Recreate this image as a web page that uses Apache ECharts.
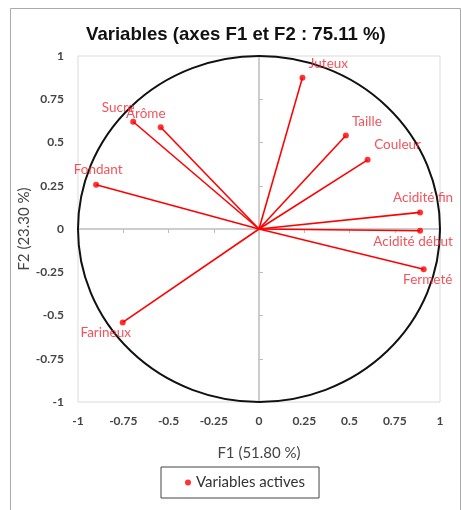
<!DOCTYPE html>
<html><head><meta charset="utf-8">
<script src="https://cdn.jsdelivr.net/npm/echarts@6/dist/echarts.min.js"></script>
<style>html,body{margin:0;padding:0;background:#fff}#c{width:461px;height:510px}</style>
</head><body><div id="c"></div>
<script>
var variables = ['Juteux','Taille','Couleur','Acidité fin','Acidité début','Fermeté','Sucre','Arôme','Fondant','Farineux'];
var f1 = [0.24, 0.48, 0.60, 0.89, 0.89, 0.91, -0.695, -0.543, -0.90, -0.753];
var f2 = [0.875, 0.54, 0.40, 0.096, -0.01, -0.233, 0.62, 0.588, 0.256, -0.54];
var tickValues = [-1, -0.75, -0.5, -0.25, 0, 0.25, 0.5, 0.75, 1];
var circleRadius = [1];

// label placement (style only)
var labelOffsets = [[26,-14],[21,-14],[30,-15],[3,-15],[-7,11],[4,10],[-15,-14],[-15,-14],[2,-15],[-17,10]];

var RED = '#ff0000';
var LBL = '#f02833';
var FONT = 'Lato, "Open Sans", sans-serif';

var chart = echarts.init(document.getElementById('c'), null, {renderer:'canvas'});

function fmt(v){ return String(v); }

var scatterData = variables.map(function(n,i){
  return {name:n, value:[f1[i], f2[i]],
    label:{show:true, position:'inside', offset:labelOffsets[i], formatter:n,
      color:LBL, fontSize:13.5, fontFamily:FONT}};
});
var lineData = variables.map(function(n,i){ return {coords:[[0,0],[f1[i],f2[i]]]}; });

var axisCommon = {
  type:'value', min:-1, max:1, interval:0.25,
  splitLine:{show:false}
};

chart.setOption({
  animation:false,
  title:{text:'Variables (axes F1 et F2 : 75.11 %)', left:81, top:20,
    textStyle:{fontFamily:'"Liberation Sans", Arial, sans-serif', fontWeight:'bold', fontSize:18.6, color:'#111'}},
  legend:{data:[{name:'Variables actives', icon:'circle'}], left:161, top:467,
    itemWidth:6, itemHeight:6, itemGap:8,
    padding:[8,14,8,24], borderColor:'#444', borderWidth:1,
    textStyle:{fontFamily:FONT, fontSize:15, color:'#333'}},
  grid:{left:78, right:21, top:56, bottom:108, show:true, borderColor:'#dadada', borderWidth:1},
  xAxis:[
    Object.assign({}, axisCommon, {position:'bottom',
      axisLine:{show:false, onZero:false}, axisTick:{show:false},
      axisLabel:{formatter:fmt, color:'#444', fontFamily:FONT, fontSize:12, fontWeight:'bold', margin:13},
      name:'F1 (51.80 %)', nameLocation:'middle', nameGap:44, nameMoveOverlap:false,
      nameTextStyle:{fontFamily:FONT, fontSize:15, color:'#444'}}),
    Object.assign({}, axisCommon, {position:'top',
      axisLine:{show:true, onZero:true, lineStyle:{color:'#bdbdbd', width:1.5}},
      axisTick:{show:true, inside:true, length:4, lineStyle:{color:'#bdbdbd'}},
      axisLabel:{show:false}})
  ],
  yAxis:[
    Object.assign({}, axisCommon, {position:'left',
      axisLine:{show:false, onZero:false}, axisTick:{show:false},
      axisLabel:{formatter:fmt, color:'#444', fontFamily:FONT, fontSize:12, fontWeight:'bold', margin:14},
      name:'F2 (23.30 %)', nameLocation:'middle', nameGap:46, nameRotate:90, nameMoveOverlap:false,
      nameTextStyle:{fontFamily:FONT, fontSize:15, color:'#444'}}),
    Object.assign({}, axisCommon, {position:'right',
      axisLine:{show:true, onZero:true, lineStyle:{color:'#bdbdbd', width:1.5}},
      axisTick:{show:true, inside:false, length:4, lineStyle:{color:'#bdbdbd'}},
      axisLabel:{show:false}})
  ],
  graphic:[{type:'rect', left:8, top:6, z:-10, silent:true,
    shape:{width:450, height:520}, style:{fill:'none', stroke:'#aaa', lineWidth:1}}],
  series:[
    {type:'custom', name:'cercle', xAxisIndex:0, yAxisIndex:0, silent:true,
      data:circleRadius.map(function(r){return [0,0,r];}),
      renderItem:function(params, api){
        var r = api.value(2);
        var c = api.coord([api.value(0), api.value(1)]);
        var e = api.coord([r, 0]);
        var t = api.coord([0, r]);
        var rx = e[0]-c[0], ry = c[1]-t[1];
        var d = 'M'+(c[0]-rx)+' '+c[1]+' A'+rx+' '+ry+' 0 1 0 '+(c[0]+rx)+' '+c[1]+
                ' A'+rx+' '+ry+' 0 1 0 '+(c[0]-rx)+' '+c[1]+' Z';
        return {type:'path', shape:{pathData:d}, style:{fill:'none', stroke:'#111', lineWidth:2}};
      }},
    {type:'lines', name:'vecteurs', coordinateSystem:'cartesian2d', xAxisIndex:0, yAxisIndex:0,
      data:lineData, silent:true, symbol:['none','none'],
      lineStyle:{color:RED, width:1.6, opacity:1}, z:3},
    {type:'scatter', name:'Variables actives', xAxisIndex:0, yAxisIndex:0,
      data:scatterData, symbol:'circle', symbolSize:6,
      itemStyle:{color:RED}, z:4}
  ]
});
</script></body></html>
